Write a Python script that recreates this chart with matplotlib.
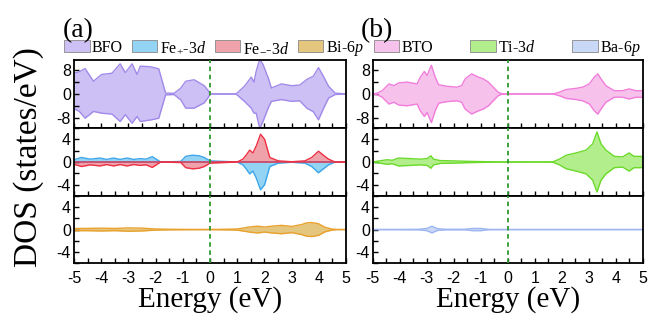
import numpy as np
import matplotlib.pyplot as plt
from matplotlib.patches import Patch
from matplotlib.ticker import MultipleLocator

plt.rcParams['font.family'] = ['Liberation Sans', 'DejaVu Sans']
plt.rcParams['mathtext.fontset'] = 'custom'
plt.rcParams['mathtext.rm'] = 'Liberation Serif'
plt.rcParams['mathtext.it'] = 'Liberation Serif:italic'
plt.rcParams['axes.unicode_minus'] = False

# ---- panel (a): BiFeO3 ----
bfo_e = [-5.0, -4.8, -4.59, -4.28, -3.98, -3.6, -3.3, -3.11, -2.86, -2.68, -2.56, -2.19,
         -1.88, -1.63, -1.32, -1.07, -0.89, -0.58, -0.21, -0.05, 0.0, 0.95, 1.02, 1.27,
         1.52, 1.62, 1.70, 1.83, 1.95, 2.14, 2.26, 2.63, 3.0, 3.3, 3.56, 3.8, 3.99, 4.17,
         4.36, 4.6, 5.0]
bfo_up = [7.0, 7.5, 8.6, 4.3, 6.6, 7.0, 10.2, 7.2, 10.2, 6.6, 9.4, 9.2,
          8.5, 0.3, 0.2, 2.0, 4.3, 4.8, 2.8, 1.0, 0.0, 0.0, 0.5, 2.6,
          5.7, 4.0, 7.7, 11.7, 10.0, 5.5, 2.0, 3.4, 2.8, 3.0, 4.9, 6.0, 8.9, 6.0,
          2.6, 0.3, 0.0]
bfo_dn = [-5.0, -5.9, -8.2, -5.9, -6.5, -6.8, -9.3, -7.0, -9.9, -7.6, -9.3, -8.8,
          -8.2, -0.3, -0.2, -2.0, -4.8, -4.8, -3.0, -1.0, 0.0, 0.0, -0.5, -2.5,
          -4.8, -6.5, -6.5, -11.6, -9.3, -4.8, -2.5, -1.9, -2.5, -2.3, -4.8, -6.0, -8.75, -5.0,
          -1.4, -0.2, 0.0]

fe_e = [-5.0, -4.72, -4.4, -4.04, -3.8, -3.54, -3.3, -3.05, -2.8, -2.56, -2.35, -2.12,
        -1.81, -1.07, -0.89, -0.64, -0.40, -0.21, 0.0, 1.02, 1.21, 1.33, 1.46, 1.58,
        1.70, 1.86, 2.01, 2.20, 2.51, 3.0, 3.49, 3.74, 3.99, 4.17, 4.36, 4.6, 5.0]
fe_occ = [0.4, 0.8, 0.5, 0.7, 0.45, 0.7, 0.45, 0.7, 0.45, 0.6, 0.5, 0.95,
          0.0, 0.1, 1.0, 1.2, 1.1, 0.8, 0.2, 0.0, 0.0, 0.0, 0.0, 0.0,
          0.0, 0.0, 0.0, 0.0, 0.0, 0.0, 0.0, 0.0, 0.0, 0.0, 0.0, 0.0, 0.0]
fe_unocc = [0.0, 0.0, 0.0, 0.0, 0.0, 0.0, 0.0, 0.0, 0.0, 0.0, 0.0, 0.0,
            0.0, 0.0, 0.0, 0.0, 0.0, 0.0, 0.0, 0.05, 0.5, 1.2, 2.1, 1.6,
            2.8, 4.9, 4.0, 0.8, 0.2, 0.05, 0.2, 0.8, 1.9, 1.2, 0.5, 0.0, 0.0]

bi_e = [-5.0, -4.5, -4.0, -3.5, -3.0, -2.5, -2.0, -1.5, 0.0, 1.0, 1.52, 1.77, 2.01, 2.26,
        2.63, 3.0, 3.37, 3.56, 3.74, 3.99, 4.23, 4.48, 4.7, 5.0]
bi_val = [0.2, 0.2, 0.25, 0.2, 0.3, 0.25, 0.1, 0.05, 0.0, 0.1, 0.5, 0.6, 0.45, 0.6,
          0.75, 0.55, 0.9, 1.2, 1.25, 1.05, 0.4, 0.1, 0.0, 0.0]

# ---- panel (b): BaTiO3 ----
bto_e = [-5.0, -4.83, -4.65, -4.40, -4.22, -4.04, -3.73, -3.36, -3.24, -3.09, -2.99, -2.83,
         -2.69, -2.56, -2.26, -1.89, -1.71, -1.58, -1.34, -1.09, -0.91, -0.72, -0.54, -0.36,
         -0.23, 0.0, 1.67, 1.91, 2.16, 2.53, 2.77, 3.02, 3.20, 3.33, 3.45, 3.63, 3.94, 4.25,
         4.49, 4.74, 5.0]
bto_val = [0.0, 0.3, 1.1, 3.4, 2.8, 3.75, 4.0, 3.4, 5.7, 7.6, 6.25, 9.7,
           5.7, 3.1, 2.6, 2.3, 2.8, 5.1, 6.8, 5.7, 5.1, 4.0, 2.3, 0.6,
           0.1, 0.0, 0.0, 0.6, 1.5, 1.9, 2.3, 3.4, 5.7, 6.8, 5.1, 2.8, 1.1, 1.1,
           1.7, 1.1, 1.1]

ti_e = [-5.0, -4.75, -4.47, -4.28, -4.04, -3.61, -3.24, -2.99, -2.85, -2.75, -2.50, -2.01,
        -1.52, -0.54, 1.50, 1.67, 1.91, 2.16, 2.53, 2.90, 3.14, 3.30, 3.45, 3.63, 3.94,
        4.25, 4.49, 4.67, 4.92, 5.0]
ti_val = [0.0, 0.2, 0.4, 0.3, 0.7, 0.6, 0.5, 0.6, 1.1, 0.5, 0.25, 0.2,
          0.12, 0.03, 0.0, 0.05, 0.5, 1.2, 1.6, 2.1, 3.2, 5.3, 3.2, 2.1, 1.0,
          0.9, 1.6, 1.0, 1.0, 0.9]

ba_e = [-5.0, -3.3, -3.0, -2.81, -2.6, -2.3, -1.6, -1.3, -1.0, -0.7, 0.0, 5.0]
ba_val = [0.0, 0.05, 0.2, 0.6, 0.15, 0.05, 0.05, 0.2, 0.2, 0.03, 0.0, 0.0]

xticks = [-5, -4, -3, -2, -1, 0, 1, 2, 3, 4, 5]

C = {
    'bfo': ('#cdc0f4', '#a18ae9'),
    'fep': ('#93d3f3', '#3ea6ea'),
    'fem': ('#f0a2ab', '#ee3044'),
    'bi': ('#e5c67e', '#e9a12c'),
    'bto': ('#f6c2ec', '#f27ddb'),
    'ti': ('#b3ee8c', '#6cda2b'),
    'ba': ('#c9d8f6', '#9db5f0'),
}


def dos(ax, e, up, dn, key):
    fill, edge = C[key]
    ax.fill_between(e, dn, up, color=fill, lw=0)
    ax.plot(e, up, color=edge, lw=1.0)
    ax.plot(e, dn, color=edge, lw=1.0)


fig = plt.figure(figsize=(6.54, 3.24), dpi=100)
lefts = [0.113, 0.570]
widths = [0.416, 0.413]
bottoms = [0.605, 0.395, 0.188]
heights = [0.210, 0.210, 0.207]

axes = []
for c in range(2):
    col = []
    for r in range(3):
        ax = fig.add_axes([lefts[c], bottoms[r], widths[c], heights[r]])
        col.append(ax)
    axes.append(col)

a1, a2, a3 = axes[0]
b1, b2, b3 = axes[1]

dos(a1, bfo_e, bfo_up, bfo_dn, 'bfo')
dos(a2, fe_e, fe_occ, -np.array(fe_unocc), 'fep')
dos(a2, fe_e, fe_unocc, -np.array(fe_occ), 'fem')
dos(a3, bi_e, bi_val, -np.array(bi_val), 'bi')
dos(b1, bto_e, bto_val, -np.array(bto_val), 'bto')
dos(b2, ti_e, ti_val, -np.array(ti_val), 'ti')
dos(b3, ba_e, ba_val, -np.array(ba_val), 'ba')

for c in range(2):
    for r, ax in enumerate(axes[c]):
        ax.set_xlim(-5, 5)
        ax.axvline(0, color='#2f9a2f', ls=(0, (2.5, 2)), lw=1.3, zorder=5)
        for s in ax.spines.values():
            s.set_linewidth(1.3)
        ax.set_xticks(xticks)
        ax.xaxis.set_minor_locator(MultipleLocator(0.5))
        if r == 0:
            ax.set_ylim(-11.5, 11.5)
            ax.set_yticks([-8, 0, 8])
            ax.yaxis.set_minor_locator(MultipleLocator(4))
        else:
            ax.set_ylim(-6, 6)
            ax.set_yticks([-4, 0, 4])
            ax.yaxis.set_minor_locator(MultipleLocator(2))
        ax.tick_params(which='both', direction='in', labelsize=11.5, width=1.0, pad=2)
        ax.tick_params(which='both', length=3.5)
        ax.tick_params(axis='x', pad=6)
        if r < 2:
            ax.tick_params(labelbottom=False)
        else:
            ax.set_xlabel('Energy (eV)', family='Liberation Serif', fontsize=21, labelpad=0)

fig.text(0.044, 0.515, 'DOS (states/eV)', family='Liberation Serif', fontsize=24,
         rotation=90, ha='center', va='center')
fig.text(0.120, 0.905, '(a)', family='Liberation Serif', fontsize=20, ha='center', va='center')
fig.text(0.577, 0.905, '(b)', family='Liberation Serif', fontsize=20, ha='center', va='center')


def legend(ax, keys, labels, x0, colsp):
    handles = [Patch(facecolor=C[k][0], edgecolor='#888888', lw=0.6) for k in keys]
    ax.legend(handles, labels, loc='lower left', bbox_to_anchor=(x0, 1.0), ncol=len(keys),
              frameon=False, borderaxespad=0.05, borderpad=0.1, handlelength=1.6,
              handleheight=0.7, handletextpad=0.15, columnspacing=colsp,
              prop={'family': 'Liberation Serif', 'size': 11.5})


legend(a1, ['bfo', 'fep', 'fem', 'bi'],
       ['BFO', 'Fe$_{+}$-3$d$', 'Fe$_{-}$-3$d$', 'Bi-6$p$'], -0.045, 0.55)
legend(b1, ['bto', 'ti', 'ba'], ['BTO', 'Ti-3$d$', 'Ba-6$p$'], -0.005, 2.3)

fig.savefig('out.png', dpi=100)
